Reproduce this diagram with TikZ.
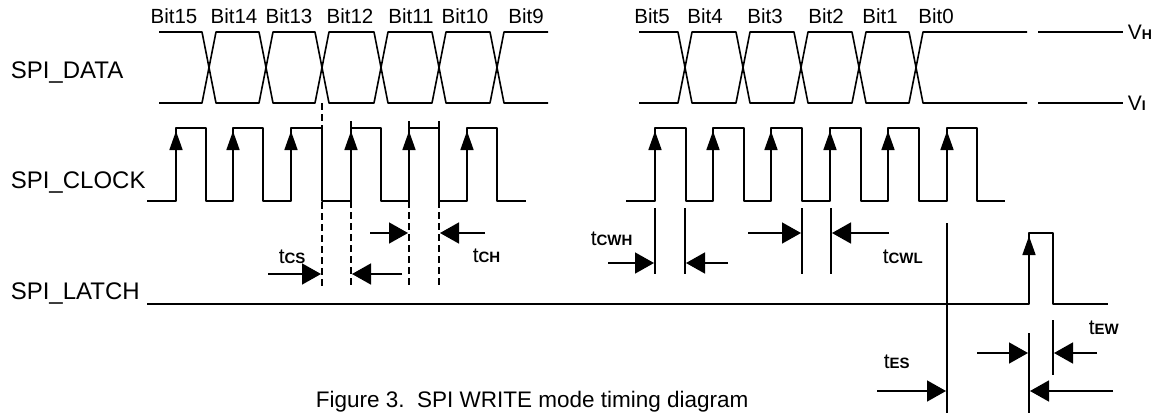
\documentclass[tikz,border=0pt]{standalone}
\usepackage{fontspec}
\setmainfont{Liberation Sans}
\usetikzlibrary{arrows.meta}
\newcommand{\tname}[1]{t{\fontsize{15}{15}\selectfont\bfseries #1}}
\newcommand{\vname}[1]{V{\fontsize{14}{14}\selectfont\bfseries #1}}
\begin{document}
\begin{tikzpicture}[x=1pt,y=-1pt,line width=1.6pt,line join=round,
	dashline/.style={dash pattern=on 7pt off 4pt},
	edgearrow/.style={-{Triangle[length=19pt,width=13pt]}},
	timearrow/.style={-{Triangle[length=19pt,width=21pt]}},
	rowlabel/.style={anchor=base west,inner sep=0pt,font=\fontsize{24}{28}\selectfont},
	bitlabel/.style={anchor=base,inner sep=0pt,font=\fontsize{20.5}{24}\selectfont},
	tlabel/.style={anchor=base west,inner sep=0pt,font=\fontsize{21}{24}\selectfont}]
	\useasboundingbox (0,0) rectangle (1167,413);
	% row names
	\node[rowlabel] (data) at (10,78) {SPI\_DATA};
	\node[rowlabel] (clock) at (10,188) {SPI\_CLOCK};
	\node[rowlabel] (latch) at (10,299) {SPI\_LATCH};
	% bit names
	\foreach \x/\b in {174/15,234/14,289/13,350/12,411/11,465/10,526/9,652/5,705/4,765/3,826/2,880/1,936/0}
		\node[bitlabel] (bit\b) at (\x,23) {Bit\b};
	% data eyes
	\draw (159,32) -- (202,32) -- (209,67.5) -- (202,103) -- (159,103);
	\foreach \a/\b in {209/266,266/322,322/381,381/439,439/497,685/743,743/801,801/859,859/916}
		\draw (\a,67.5) -- (\a+7,32) -- (\b-7,32) -- (\b,67.5) -- (\b-7,103) -- (\a+7,103) -- cycle;
	\draw (548,32) -- (504,32) -- (497,67.5) -- (504,103) -- (548,103);
	\draw (639,32) -- (678,32) -- (685,67.5) -- (678,103) -- (639,103);
	\draw (1027,32) -- (923,32) -- (916,67.5) -- (923,103) -- (1027,103);
	\draw (1038,32) -- (1123,32) (1038,103) -- (1123,103);
	\node[tlabel] (vh) at (1127,39) {\vname{H}};
	\node[tlabel] (vl) at (1127,110) {\vname{I}};
	% clock
	\draw (147,201) \foreach \r/\f in {176/206,233/263,291/322,351/381,409/439,467/497}
		{ -- (\r,201) -- (\r,128) -- (\f,128) -- (\f,201) } -- (526,201);
	\draw (626,201) \foreach \r/\f in {655/686,713/744,771/802,830/861,888/919,947/977}
		{ -- (\r,201) -- (\r,128) -- (\f,128) -- (\f,201) } -- (1005,201);
	\foreach \r in {176,233,291,351,409,467,655,713,771,830,888,947}
		\draw[edgearrow] (\r,152) -- (\r,131);
	% latch
	\draw (147,304) -- (1029,304) -- (1029,233) -- (1053,233) -- (1053,304) -- (1108,304);
	\draw[edgearrow] (1029,257) -- (1029,236);
	% setup and hold markers
	\draw[dashline] (322,103) -- (322,288);
	\foreach \x in {351,409,439} {
		\draw (\x,121) -- (\x,201);
		\draw[dashline] (\x,201) -- (\x,288);
	}
	\draw[timearrow] (268,274) -- (321,274);
	\draw[timearrow] (402,274) -- (352,274);
	\node[tlabel] (tcs) at (278,263) {\tname{CS}};
	\draw[timearrow] (370,233) -- (408,233);
	\draw[timearrow] (485,233) -- (440,233);
	\node[tlabel] (tch) at (472,262) {\tname{CH}};
	% clock width markers
	\draw (655,208) -- (655,274) (685,208) -- (685,274);
	\draw[timearrow] (608,263) -- (654,263);
	\draw[timearrow] (728,263) -- (686,263);
	\node[tlabel] (tcwh) at (590,245) {\tname{CWH}};
	\draw (802,208) -- (802,274) (831,208) -- (831,274);
	\draw[timearrow] (748,233) -- (801,233);
	\draw[timearrow] (889,233) -- (832,233);
	\node[tlabel] (tcwl) at (882,263) {\tname{CWL}};
	% latch markers
	\draw (947,223) -- (947,413);
	\draw[timearrow] (877,391) -- (946,391);
	\node[tlabel] (tes) at (883,368) {\tname{ES}};
	\draw (1029,333) -- (1029,413) (1053,320) -- (1053,375);
	\draw[timearrow] (977,353) -- (1028,353);
	\draw[timearrow] (1097,353) -- (1054,353);
	\draw[timearrow] (1113,391) -- (1030,391);
	\node[tlabel] (tew) at (1088,334) {\tname{EW}};
	% caption
	\node[anchor=base west,inner sep=0pt,font=\fontsize{22.5}{26}\selectfont] (caption) at (315,407) {Figure 3.\ \ SPI WRITE mode timing diagram};
\end{tikzpicture}
\end{document}
